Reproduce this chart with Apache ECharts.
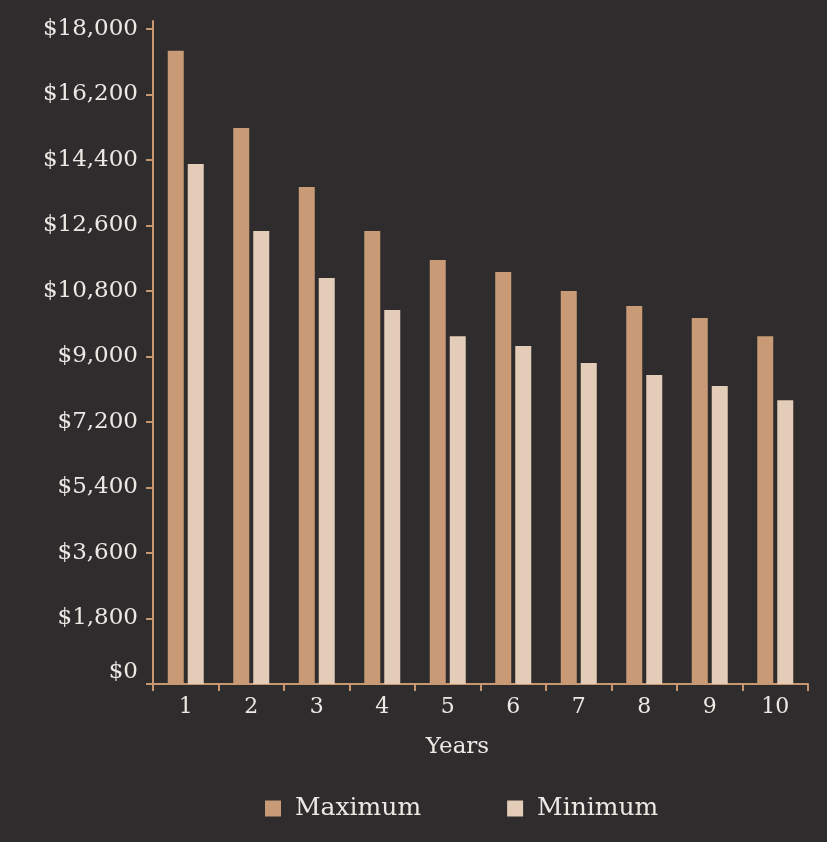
<!DOCTYPE html>
<html>
<head>
<meta charset="utf-8">
<script src="https://cdn.jsdelivr.net/npm/echarts@6/dist/echarts.min.js"></script>
<style>
  html, body { margin: 0; padding: 0; background: #2e2c2d; }
  #main { width: 827px; height: 842px; }
</style>
</head>
<body>
<div id="main"></div>
<script>
// values
const years = ['1', '2', '3', '4', '5', '6', '7', '8', '9', '10'];
const maxVals = [17400, 15280, 13660, 12450, 11650, 11320, 10800, 10390, 10060, 9560];
const minVals = [14290, 12450, 11160, 10280, 9560, 9290, 8820, 8490, 8190, 7800];
const yTicks = [0, 1800, 3600, 5400, 7200, 9000, 10800, 12600, 14400, 16200, 18000];

const font = 'DejaVu Serif';
const textColor = '#ece8e4';
const axisColor = '#c8976f';

const chart = echarts.init(document.getElementById('main'));

const option = {
  backgroundColor: '#2e2c2d',
  animation: false,
  grid: { left: 153, right: 19, top: 21, bottom: 158 },
  legend: {
    bottom: 16,
    left: 260,
    itemWidth: 16,
    itemHeight: 16,
    itemGap: 86,
    icon: 'rect',
    textStyle: { color: textColor, fontFamily: font, fontSize: 25, padding: [0, 0, 0, 9] },
    data: ['Maximum', 'Minimum']
  },
  xAxis: {
    type: 'category',
    data: years,
    name: 'Years',
    nameLocation: 'middle',
    nameGap: 52,
    nameTextStyle: { color: textColor, fontFamily: font, fontSize: 23, padding: [0, 46, 0, 0] },
    axisLine: { show: true, lineStyle: { color: axisColor, width: 2 } },
    axisTick: { show: true, inside: false, length: 7, lineStyle: { color: axisColor, width: 2 } },
    axisLabel: { color: textColor, fontFamily: font, fontSize: 22, margin: 12 }
  },
  yAxis: {
    type: 'value',
    min: 0,
    max: 18220,
    splitLine: { show: false },
    axisLine: { show: true, lineStyle: { color: axisColor, width: 2 } },
    axisTick: { show: true, inside: false, length: 7, lineStyle: { color: axisColor, width: 2 }, customValues: yTicks },
    axisLabel: {
      customValues: yTicks,
      color: textColor,
      fontFamily: font,
      fontSize: 23,
      margin: 15,
      formatter: function (v) {
        if (v === 0) return '{z|$0}';
        return '$' + v.toLocaleString('en-US');
      },
      rich: {
        z: { color: textColor, fontFamily: font, fontSize: 23, padding: [0, 0, 24, 0] }
      }
    }
  },
  series: [
    {
      name: 'Maximum',
      type: 'bar',
      data: maxVals,
      barWidth: 16,
      barGap: '25%',
      itemStyle: { color: '#c89b76' }
    },
    {
      name: 'Minimum',
      type: 'bar',
      data: minVals,
      barWidth: 16,
      itemStyle: { color: '#e3cdb9' }
    }
  ]
};

chart.setOption(option);
</script>
</body>
</html>
